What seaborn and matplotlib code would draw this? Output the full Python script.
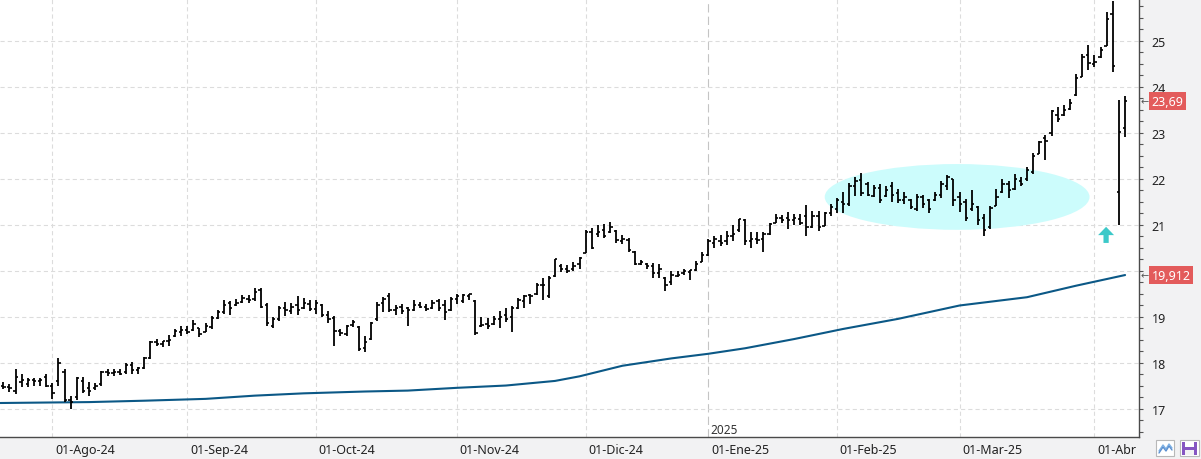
import matplotlib
matplotlib.use('Agg')
import matplotlib.pyplot as plt
import matplotlib.transforms as mtransforms
from matplotlib.patches import Ellipse, FancyArrow, Rectangle
from matplotlib.lines import Line2D
from matplotlib.ticker import MultipleLocator
import numpy as np
import seaborn as sns

# --- datos (barras diarias OHLC) ---
opens = [
    17.50, 17.47, 17.40, 17.58, 17.55, 17.62, 17.60, 17.70,  # jul
    17.50, 17.60, 17.80, 17.20, 17.25, 17.60, 17.45, 17.45, 17.55, 17.80, 17.78,
    17.80, 17.80, 17.95, 17.85, 17.90, 18.10, 18.45, 18.42, 18.47, 18.58, 18.68,  # ago
    18.72, 18.72, 18.75, 18.68, 18.78, 18.98, 19.10, 19.30, 19.25, 19.32, 19.40,
    19.40, 19.58, 19.25, 18.80, 18.95, 19.20, 19.12, 19.25, 19.20, 19.28,  # sep
    19.18, 19.27, 19.05, 18.98, 18.70, 18.62, 18.82, 18.78, 18.32, 18.52, 18.95, 19.30,
    19.45, 19.15, 19.22, 19.20, 19.15, 19.25, 19.22, 19.20, 19.35, 19.25, 19.15,  # oct
    19.40, 19.35, 19.45, 19.35, 18.80, 18.85, 18.85, 18.95, 19.05, 19.00, 19.20,
    19.35, 19.48, 19.50, 19.70, 19.45, 19.90, 20.10, 20.05, 20.05, 20.15,  # nov
    20.40, 20.85, 20.80, 20.90, 20.85, 20.88, 20.65, 20.68, 20.42, 20.15,
    20.15, 20.10, 19.95, 19.85, 19.75, 19.90, 19.95, 19.98, 20.02, 20.20,  # dic
    20.35, 20.60, 20.65, 20.65, 20.75, 20.90, 21.10, 20.65, 20.70, 20.70, 20.80,
    21.05, 21.15, 21.15, 21.10, 21.12, 21.20, 20.95, 21.20, 20.98, 21.25,  # ene
    21.35, 21.50, 21.45, 21.85, 21.98, 21.90, 21.62, 21.80, 21.62, 21.85,
    21.70, 21.55, 21.55, 21.35, 21.60, 21.55, 21.55, 21.65, 21.85, 22.00,  # feb
    21.60, 21.50, 21.35, 21.40, 21.15, 20.95, 21.42, 21.72, 21.90, 21.78, 21.95,
    22.00, 22.15, 22.55, 22.90, 23.00, 23.40, 23.40, 23.52, 23.82, 24.22, 24.70,  # mar
    24.50, 24.65, 24.90, 25.58, 21.72, 23.10,  # abr
]
highs = [
    17.58, 17.54, 17.86, 17.76, 17.67, 17.67, 17.67, 17.76,
    17.56, 18.10, 17.86, 17.28, 17.69, 17.69, 17.58, 17.56, 17.82, 17.86, 17.88,
    17.88, 17.99, 18.02, 17.92, 18.12, 18.48, 18.52, 18.48, 18.61, 18.74, 18.80,
    18.81, 18.93, 18.77, 18.88, 19.03, 19.15, 19.37, 19.34, 19.40, 19.48, 19.48,
    19.62, 19.63, 19.30, 18.99, 19.23, 19.32, 19.30, 19.45, 19.41, 19.36,
    19.36, 19.28, 19.12, 19.02, 18.74, 18.83, 18.94, 18.81, 18.59, 18.90, 19.33, 19.43,
    19.52, 19.25, 19.28, 19.21, 19.36, 19.33, 19.28, 19.36, 19.39, 19.36, 19.43,
    19.51, 19.50, 19.51, 19.36, 19.00, 18.97, 19.03, 19.14, 19.19, 19.23, 19.41,
    19.48, 19.51, 19.74, 19.84, 19.90, 20.26, 20.15, 20.13, 20.20, 20.30,
    20.89, 20.93, 21.00, 21.02, 21.07, 20.90, 20.78, 20.71, 20.44, 20.24,
    20.17, 20.17, 20.15, 19.88, 20.01, 20.01, 20.04, 20.03, 20.22, 20.41,
    20.70, 20.75, 20.78, 20.88, 20.99, 21.14, 21.12, 20.84, 20.84, 20.84, 21.04,
    21.24, 21.22, 21.28, 21.24, 21.24, 21.43, 21.31, 21.31, 21.28, 21.46,
    21.58, 21.72, 21.91, 22.04, 22.13, 21.94, 21.87, 21.89, 21.85, 21.93,
    21.78, 21.71, 21.57, 21.67, 21.65, 21.57, 21.71, 21.96, 22.09, 22.01,
    21.71, 21.57, 21.75, 21.42, 21.24, 21.41, 21.78, 21.99, 21.96, 22.11, 22.04,
    22.25, 22.56, 22.82, 22.96, 23.51, 23.56, 23.61, 23.74, 24.28, 24.72, 24.91,
    24.70, 24.86, 25.62, 25.86, 23.72, 23.80,
]
lows = [
    17.44, 17.36, 17.33, 17.47, 17.47, 17.51, 17.51, 17.47,
    17.22, 17.50, 17.15, 17.00, 17.20, 17.35, 17.29, 17.42, 17.51, 17.71, 17.71,
    17.73, 17.76, 17.76, 17.76, 17.88, 18.09, 18.36, 18.34, 18.38, 18.56, 18.59,
    18.62, 18.70, 18.56, 18.68, 18.74, 18.96, 19.06, 19.05, 19.23, 19.30, 19.30,
    19.35, 19.19, 18.80, 18.75, 18.92, 19.03, 19.06, 19.04, 19.17, 19.12,
    19.07, 18.99, 18.88, 18.38, 18.59, 18.58, 18.78, 18.25, 18.23, 18.51, 18.92, 19.10,
    19.10, 19.04, 19.06, 18.81, 19.14, 19.19, 19.12, 19.17, 19.14, 18.94, 19.14,
    19.28, 19.30, 19.36, 18.61, 18.78, 18.74, 18.83, 18.75, 18.90, 18.68, 19.17,
    19.19, 19.28, 19.48, 19.36, 19.41, 19.88, 19.98, 19.96, 20.01, 20.04,
    20.39, 20.48, 20.73, 20.71, 20.83, 20.61, 20.59, 20.42, 20.12, 20.12,
    20.04, 19.84, 19.84, 19.57, 19.70, 19.86, 19.91, 19.81, 20.01, 20.19,
    20.33, 20.51, 20.54, 20.57, 20.66, 20.85, 20.57, 20.51, 20.59, 20.42, 20.78,
    21.04, 21.04, 20.91, 21.00, 20.99, 20.75, 20.93, 20.88, 20.97, 21.20,
    21.27, 21.25, 21.42, 21.64, 21.64, 21.62, 21.60, 21.48, 21.60, 21.49,
    21.48, 21.46, 21.35, 21.31, 21.36, 21.26, 21.53, 21.58, 21.77, 21.42,
    21.28, 21.09, 21.31, 20.99, 20.77, 20.91, 21.42, 21.70, 21.58, 21.75, 21.84,
    21.96, 22.11, 22.54, 22.42, 22.93, 23.23, 23.36, 23.51, 23.81, 24.21, 24.38,
    24.43, 24.62, 24.90, 24.33, 21.00, 22.91,
]
closes = [
    17.48, 17.45, 17.70, 17.62, 17.62, 17.60, 17.62, 17.50,
    17.35, 18.00, 17.20, 17.15, 17.68, 17.40, 17.40, 17.50, 17.80, 17.78, 17.80,
    17.76, 17.95, 17.85, 17.90, 18.10, 18.45, 18.42, 18.47, 18.50, 18.70, 18.72,
    18.68, 18.85, 18.62, 18.80, 18.98, 19.10, 19.25, 19.20, 19.30, 19.42, 19.36,
    19.55, 19.22, 18.86, 18.95, 19.20, 19.15, 19.22, 19.15, 19.30, 19.18,
    19.30, 19.04, 18.95, 18.70, 18.65, 18.80, 18.90, 18.30, 18.45, 18.88, 19.25, 19.40,
    19.15, 19.20, 19.12, 19.15, 19.25, 19.22, 19.18, 19.30, 19.20, 19.10, 19.40,
    19.45, 19.48, 19.50, 18.65, 18.82, 18.80, 18.95, 19.00, 18.95, 19.20, 19.38,
    19.45, 19.45, 19.70, 19.70, 19.85, 20.25, 20.05, 20.00, 20.10, 20.28,
    20.85, 20.50, 20.85, 20.75, 20.95, 20.68, 20.70, 20.45, 20.15, 20.20,
    20.10, 19.95, 20.05, 19.70, 19.92, 19.92, 20.00, 20.02, 20.15, 20.35,
    20.65, 20.70, 20.60, 20.75, 20.80, 21.12, 20.65, 20.70, 20.68, 20.80, 21.02,
    21.15, 21.10, 21.10, 21.15, 21.05, 20.95, 21.20, 20.95, 21.25, 21.40,
    21.55, 21.45, 21.85, 21.95, 21.70, 21.65, 21.80, 21.55, 21.75, 21.65,
    21.55, 21.60, 21.40, 21.60, 21.45, 21.35, 21.65, 21.90, 22.05, 21.55,
    21.45, 21.15, 21.45, 21.10, 20.90, 21.38, 21.60, 21.90, 21.75, 22.00, 21.90,
    22.20, 22.50, 22.80, 22.82, 23.48, 23.30, 23.50, 23.65, 24.20, 24.65, 24.52,
    24.55, 24.80, 25.48, 24.45, 23.02, 23.69,
]

# media movil
ma_idx = [-0.5, 14, 23, 33, 41, 49, 59, 66, 74, 82, 90, 94, 101, 109, 115, 121, 129, 137, 146, 156, 167, 175, 183]
ma_val = [17.13, 17.15, 17.18, 17.22, 17.29, 17.34, 17.38, 17.40, 17.46, 17.51, 17.61, 17.71,
          17.94, 18.10, 18.20, 18.32, 18.52, 18.74, 18.96, 19.25, 19.43, 19.68, 19.912]

month_pos = [8, 30, 51, 74, 95, 115, 136, 156, 178]
month_labels = ['01-Ago-24', '01-Sep-24', '01-Oct-24', '01-Nov-24', '01-Dic-24',
                '01-Ene-25', '01-Feb-25', '01-Mar-25', '01-Abr']
year_pos = 115
year_label = '2025'

sns.set_style('white')
plt.rcParams['font.family'] = ['Noto Sans', 'DejaVu Sans']
plt.rcParams['lines.scale_dashes'] = False

W, H = 1201, 460
fig = plt.figure(figsize=(W / 100, H / 100), dpi=100, facecolor='#f2f2f3')
ax = fig.add_axes([0, 22 / H, 1139 / W, 438 / H])
ax.set_facecolor('white')
ax.set_xlim(-0.54, 185.27)
ax.set_ylim(16.391, 25.913)

# rejilla
ax.yaxis.tick_right()
ax.yaxis.set_major_locator(MultipleLocator(1))
ax.yaxis.set_minor_locator(MultipleLocator(0.25))
ax.grid(axis='y', which='major', color='#dcdcdc', lw=0.8, linestyle=(0, (3, 2.2)), zorder=0)
for p in month_pos:
    if p != year_pos:
        ax.axvline(p, color='#dcdcdc', lw=0.8, linestyle=(0, (3, 2.2)), zorder=0)
ax.axvline(year_pos, color='#c4c4c4', lw=0.8, linestyle=(0, (6, 3)), zorder=0)

# elipse y flecha
ax.add_patch(Ellipse((155.6, 21.61), 43.2, 1.43, fc='#ccfcfc', ec='none', zorder=1))
ax.add_patch(FancyArrow(179.9, 20.61, 0, 0.35, width=0.85, head_width=2.6, head_length=0.18,
                        length_includes_head=True, fc='#3cc9c9', ec='none', zorder=3))

# media movil
sns.lineplot(x=ma_idx, y=ma_val, ax=ax, color='#0b5886', lw=1.5, zorder=2)

# barras OHLC
x = np.arange(len(highs))
ax.vlines(x, lows, highs, color='black', lw=1.3, zorder=4)
ax.hlines(opens, x - 0.38, x, color='black', lw=1.2, zorder=4)
ax.hlines(closes, x, x + 0.38, color='black', lw=1.2, zorder=4)

# ejes
for s in ['left', 'top']:
    ax.spines[s].set_visible(False)
for s in ['right', 'bottom']:
    ax.spines[s].set_color('#4a4a4a')
    ax.spines[s].set_linewidth(1)
ax.tick_params(axis='y', which='both', direction='out', length=3, width=0.8, color='#555555',
               labelsize=9, labelcolor='#222222', pad=6, left=False, right=True)
ax.set_xticks(month_pos)
ax.set_xticklabels(month_labels, ha='left')
ax.tick_params(axis='x', length=6, width=0.8, color='#555555', labelsize=9,
               labelcolor='#222222', pad=-2)
offset = mtransforms.ScaledTranslation(2 / 72, 0, fig.dpi_scale_trans)
for lbl in ax.get_xticklabels():
    lbl.set_transform(lbl.get_transform() + offset)
ax.set_xlabel('')
ax.set_ylabel('')

trans_x = mtransforms.blended_transform_factory(ax.transData, ax.transAxes)
ax.text(year_pos + 0.3, 0.002, year_label, transform=trans_x, ha='left', va='bottom',
        fontsize=8.5, color='#333333')

# etiquetas de precio a la derecha (tapan la cifra del eje que queda debajo)
fig.canvas.draw()
tag_vals = [closes[-1], ma_val[-1]]
for tick in ax.yaxis.get_major_ticks():
    if any(abs(tick.get_loc() - v) < 0.2 for v in tag_vals):
        tick.label2.set_visible(False)

trans_y = mtransforms.blended_transform_factory(ax.transAxes, ax.transData)
for val, txt in [(closes[-1], f'{closes[-1]:.2f}'.replace('.', ',')),
                 (ma_val[-1], f'{ma_val[-1]:.3f}'.replace('.', ','))]:
    ax.text(1.011, val, txt, transform=trans_y, ha='left', va='center', color='white',
            fontsize=9, clip_on=False, zorder=6,
            bbox=dict(boxstyle='square,pad=0.2', fc='#e35b5b', ec='none'))
    ax.text(1.0015, val, '←', transform=trans_y, ha='left', va='center', fontsize=7,
            color='#555555', clip_on=False, family=['DejaVu Sans'])


# iconos inferiores
def px_rect(x0, y0, x1, y1, **kw):
    fig.add_artist(Rectangle((x0 / W, 1 - y1 / H), (x1 - x0) / W, (y1 - y0) / H,
                             transform=fig.transFigure, **kw))


px_rect(1156, 441, 1174, 457, fc='white', ec='#b8b8b8', lw=0.8)
zx = np.array([1159, 1163, 1166, 1169, 1172])
fig.add_artist(Line2D(zx / W, 1 - np.array([452, 446, 450, 445, 449]) / H,
                      transform=fig.transFigure, color='#7fb2e5', lw=1))
fig.add_artist(Line2D(zx / W, 1 - np.array([454, 448, 452, 447, 451]) / H,
                      transform=fig.transFigure, color='#5a8fd0', lw=1))
px_rect(1180, 441, 1199, 457, fc='white', ec='#b8b8b8', lw=0.8)
px_rect(1182, 443, 1197, 456, fc='#8656c2', ec='none')
px_rect(1185, 443, 1194, 448, fc='white', ec='none')
px_rect(1185, 451, 1194, 456, fc='#f2f2f3', ec='none')

fig.savefig('out.png', dpi=100, facecolor=fig.get_facecolor())
